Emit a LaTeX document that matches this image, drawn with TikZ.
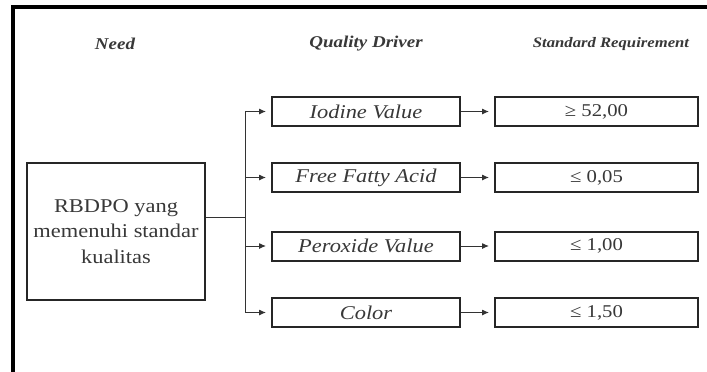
\documentclass[tikz,border=0pt]{standalone}
\usepackage{fontspec}
\setmainfont{Liberation Serif}[FakeStretch=1.15]
\usetikzlibrary{arrows.meta}
\begin{document}
\begin{tikzpicture}[x=1pt,y=-1pt,
  txt/.style={text=black!78},
  hdr/.style={txt,font=\fontsize{16.5}{20}\selectfont\bfseries\itshape},
  needbox/.style={draw=black!85,line width=2pt,minimum width=178pt,minimum height=137pt,align=center,txt,font=\fontsize{19.5}{25.5}\selectfont},
  qbox/.style={draw=black!85,line width=2pt,minimum width=188pt,minimum height=29pt,inner sep=0pt,txt,font=\fontsize{19.5}{22}\selectfont\itshape},
  sbox/.style={draw=black!85,line width=2pt,minimum width=203pt,minimum height=29pt,inner sep=0pt,txt,font=\fontsize{18}{22}\selectfont},
  conn/.style={draw=black!80,line width=1pt},
  arr/.style={conn,-{Latex[length=7pt,width=6pt]},shorten >=5pt},
  frame/.style={draw=black,line width=4pt}]
\useasboundingbox (0,0) rectangle (707,372);
\fill[white] (0,0) rectangle (707,372);
% frame
\coordinate (fa) at (13,372);
\coordinate (fb) at (13,7);
\coordinate (fc) at (707,7);
\draw[frame] (fa) -- (fb) -- (fc);
% headers
\node[hdr] (hneed) at (115,44) {Need};
\node[hdr] (hqd) at (366,44) {Quality Driver};
\node[hdr,font=\fontsize{14.5}{18}\selectfont\bfseries\itshape] (hsr) at (611,44) {Standard Requirement};
% need box
\node[needbox] (need) at (116,231.5) {RBDPO yang\\memenuhi standar\\kualitas};
% quality driver boxes
\node[qbox] (qd1) at (366,111.5) {Iodine Value};
\node[qbox] (qd2) at (366,177.5) {Free Fatty Acid};
\node[qbox] (qd3) at (366,246) {Peroxide Value};
\node[qbox] (qd4) at (366,312.5) {Color};
% standard requirement boxes
\node[sbox] (sr1) at (596.5,111.5) {≥ 52,00};
\node[sbox] (sr2) at (596.5,177.5) {≤ 0,05};
\node[sbox] (sr3) at (596.5,246) {≤ 1,00};
\node[sbox] (sr4) at (596.5,312.5) {≤ 1,50};
% connectors
\coordinate (junc) at (245,217);
\draw[conn] (need.east |- junc) -- (junc);
\draw[conn] (junc |- qd1) -- (junc |- qd4);
\foreach \i in {1,2,3,4}{
  \draw[arr] (junc |- qd\i) -- (qd\i.west);
  \draw[arr] (qd\i.east) -- (sr\i.west);
}
\end{tikzpicture}
\end{document}
